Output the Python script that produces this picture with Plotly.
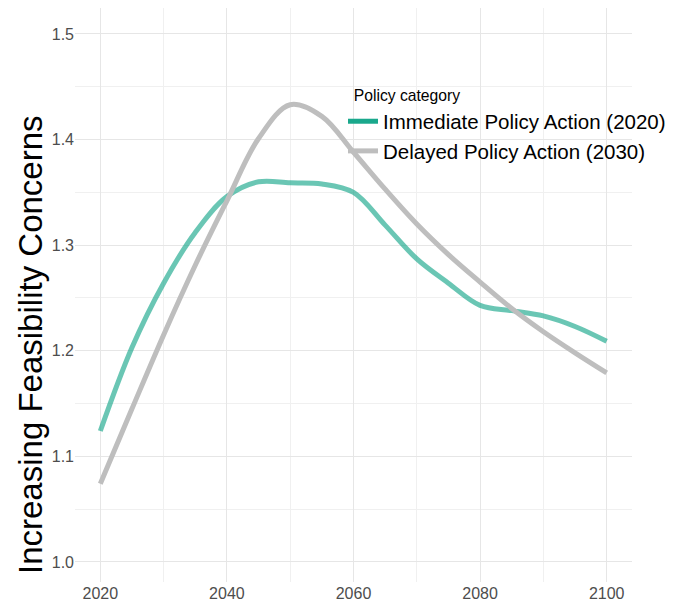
import plotly.graph_objects as go

years = [2020, 2025, 2030, 2035, 2040, 2045, 2050, 2055, 2060, 2065, 2070, 2075, 2080, 2085, 2090, 2095, 2100]
immediate = [1.124, 1.203, 1.264, 1.312, 1.346, 1.360, 1.359, 1.358, 1.350, 1.319, 1.287, 1.264, 1.243, 1.238, 1.233, 1.223, 1.209]
delayed = [1.074, 1.145, 1.215, 1.281, 1.342, 1.401, 1.433, 1.422, 1.388, 1.353, 1.320, 1.291, 1.265, 1.240, 1.218, 1.198, 1.179]

series_names = ["Immediate Policy Action (2020)", "Delayed Policy Action (2030)"]
line_colors = ["rgba(26,168,140,0.65)", "rgba(190,190,190,1)"]
key_colors = ["#1aa88c", "#bebebe"]

fig = go.Figure()
for name, vals, lc, kc in zip(series_names, [immediate, delayed], line_colors, key_colors):
    fig.add_trace(go.Scatter(x=years, y=vals, mode="lines", line=dict(color=lc, width=5, shape="spline", smoothing=1.0),
                             showlegend=False, hoverinfo="skip"))
    fig.add_trace(go.Scatter(x=[None], y=[None], mode="lines", line=dict(color=kc, width=5), name=name))

L, R, T, B = 67, 50, 0, 31
PW = 674 - L - R
PH = 605 - T - B

fig.update_layout(
    width=674, height=605,
    paper_bgcolor="white", plot_bgcolor="white",
    margin=dict(l=L, r=R, t=T, b=B),
    font=dict(family="Liberation Sans, Arial, sans-serif", color="#4d4d4d"),
    legend=dict(
        x=(335 - L) / PW, y=(PH - (73 - T)) / PH, xanchor="left", yanchor="top",
        title=dict(text="\u00a0\u00a0Policy category", font=dict(size=15.7, color="black")),
        font=dict(size=20.5, color="black"),
        bgcolor="rgba(255,255,255,0)",
        tracegroupgap=0, itemwidth=30,
    ),
    xaxis=dict(
        range=[2016, 2104], tickvals=[2020, 2040, 2060, 2080, 2100],
        showgrid=True, gridcolor="#e6e6e6", gridwidth=1,
        minor=dict(showgrid=True, tickvals=[2030, 2050, 2070, 2090], gridcolor="#f0f0f0", gridwidth=1),
        zeroline=False, showline=False, ticks="",
        tickfont=dict(size=16, color="#4d4d4d"),
        automargin=False,
    ),
    yaxis=dict(
        range=[0.981, 1.5246], tickvals=[1.0, 1.1, 1.2, 1.3, 1.4, 1.5], ticktext=["1.0", "1.1", "1.2", "1.3", "1.4", "1.5"],
        showgrid=True, gridcolor="#e6e6e6", gridwidth=1,
        minor=dict(showgrid=True, tickvals=[1.05, 1.15, 1.25, 1.35, 1.45], gridcolor="#f0f0f0", gridwidth=1),
        zeroline=False, showline=False, ticks="",
        tickfont=dict(size=16, color="#4d4d4d"),
        automargin=False,
    ),
    annotations=[dict(
        text="Increasing Feasibility Concerns", textangle=-90,
        xref="paper", yref="paper", x=(22 - L) / PW, y=(PH - (337 - T)) / PH,
        xanchor="center", yanchor="middle", showarrow=False,
        font=dict(size=33, color="black"),
    )],
)

fig.write_html("out.html")
